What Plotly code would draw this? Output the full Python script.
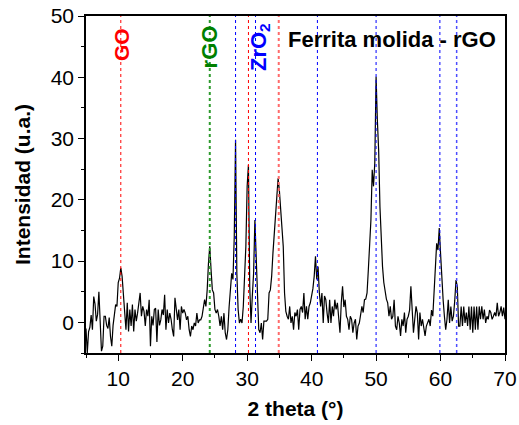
"""Difractograma XRD - Ferrita molida - rGO."""

import numpy as np
import plotly.graph_objects as go

# 2 theta grid (deg): 5.0 .. 70.0, step 0.2
two_theta_start = 5.0
two_theta_step = 0.2

# intensidad (u.a.), una fila por cada 2 grados
intensity = [
    -1.0, -5.0, -1.5, -0.8, 1.2, -1.2, 4.2, 3.0, 0.2, 1.3,
    5.0, -1.7, -4.7, -3.9, 1.0, 1.0, -0.5, -1.0, 0.8, -2.3,
    -3.9, -0.5, 1.5, 2.9, 2.6, 6.5, 7.2, 8.9, 7.5, 4.2,
    1.0, -1.2, 3.2, -1.5, 2.1, -0.6, 2.9, -1.5, 2.1, 0.2,
    1.5, 2.9, 4.8, 1.0, 2.6, 1.8, -0.6, 2.1, 1.0, 3.7,
    -3.9, 1.0, -0.5, 2.1, 2.3, -3.2, 2.1, -0.5, 0.4, 2.1,
    1.2, 4.5, -1.2, 2.1, -0.1, 1.5, 0.5, -1.2, -2.3, 4.0,
    1.5, 0.4, 2.1, -1.2, 2.6, 1.5, 2.1, 1.5, 0.4, 1.0,
    -1.2, -2.3, -0.6, -1.2, -0.1, -0.6, 1.5, -0.1, 0.4, 0.4,
    1.0, 2.6, 3.7, 2.6, 5.3, 9.7, 12.4, 8.6, 5.3, 4.8,
    2.1, 1.5, 2.1, 1.0, -0.6, 1.0, -1.2, 1.5, -1.7, -2.8,
    -1.2, 2.5, 5.3, 8.0, 7.0, 14.0, 29.8, 8.0, 2.1, -0.1,
    0.5, -0.1, 2.6, 8.6, 12.4, 22.2, 25.7, 5.9, -0.1, 4.3,
    8.0, 16.7, 10.2, 2.6, -1.2, -1.7, -0.1, -2.8, 0.2, 0.2,
    0.2, 0.5, 4.8, 5.3, 7.5, 11.3, 14.5, 17.0, 20.0, 23.5,
    21.5, 17.8, 14.0, 12.4, 4.8, 1.8, 1.0, 0.5, 2.6, -0.1,
    1.0, -1.2, 1.6, 1.0, 2.1, -1.2, 2.1, 2.6, 1.6, 4.8,
    0.5, 2.6, 0.5, 2.6, 3.2, 4.3, 5.5, 7.5, 10.8, 7.0,
    9.1, 4.8, 2.6, 4.8, -0.1, 4.3, 3.7, 1.5, -0.1, 3.7,
    -0.1, 2.6, 1.0, 3.7, 2.1, 3.2, 1.0, -1.7, 3.2, 5.9,
    2.5, 3.7, 1.0, 0.5, -1.2, 1.0, 0.5, -1.7, -0.1, 0.5,
    -2.8, -0.6, -0.1, 1.6, 2.6, 1.6, 3.7, 3.8, 4.8, 8.6,
    12.4, 16.7, 24.9, 22.2, 26.0, 40.1, 33.0, 28.0, 18.9, 12.4,
    9.1, 6.5, 4.8, 3.8, 3.2, 1.0, 2.6, 0.5, 1.0, 3.7,
    -0.6, -1.2, 1.0, -0.1, -2.2, 0.5, -0.6, 1.6, -1.7, 0.5,
    1.0, 2.0, 5.9, 1.6, -1.7, 0.5, 2.6, 1.5, -2.8, 1.6,
    -0.6, 0.5, -0.6, -2.2, -0.6, -0.1, 0.5, -0.6, 2.0, 1.0,
    5.0, 9.0, 12.9, 11.8, 15.4, 11.3, 6.9, 3.7, 1.0, -1.2,
    0.5, 3.7, -0.1, 2.6, 0.2, 1.0, 3.5, 6.9, 5.9, -0.6,
    -0.6, 2.6, -0.6, 2.6, -0.1, 1.6, -0.6, 2.6, -1.2, 2.6,
    -1.7, 2.6, -1.2, 2.6, -1.2, 2.6, 0.5, 2.6, 0.5, 2.1,
    -0.1, 1.0, 0.5, 2.0, 1.6, 0.5, 1.0, 1.6, 1.0, 3.2,
    1.0, 1.6, 2.6, 1.0, 2.4, 0.5,
]

two_theta = np.round(two_theta_start + two_theta_step * np.arange(len(intensity)), 2)

# lineas de referencia (posicion 2 theta, color)
ref_positions = [10.4, 24.2, 28.2, 30.2, 31.3, 34.9, 40.9, 50.0, 59.9, 62.5]
ref_colors = ["#ff0000", "#2e9a2e", "#0000ff", "#ff0000", "#0000ff",
              "#ff6a6a", "#0000ff", "#0000ff", "#0000ff", "#4d4dff"]
ref_widths = [1, 2, 1, 1, 1, 2, 1, 1, 1, 1.5]

# etiquetas de fases
phase_labels = ["GO", "rGO", "ZrO<sub>2</sub>"]
phase_x = [10.4, 24.2, 31.9]
phase_y = [45.4, 45.0, 45.0]
phase_colors = ["#ff0000", "#008000", "#0000ff"]
phase_sizes = [21, 22, 22]

sample_label = "Ferrita molida - rGO"

FONT = "Arial, Liberation Sans, sans-serif"

fig = go.Figure()

fig.add_trace(
    go.Scatter(
        x=two_theta,
        y=intensity,
        mode="lines",
        line=dict(color="black", width=1.2),
        showlegend=False,
    )
)

for pos, col, w in zip(ref_positions, ref_colors, ref_widths):
    fig.add_shape(
        type="line",
        xref="x",
        yref="paper",
        x0=pos,
        x1=pos,
        y0=0,
        y1=1,
        line=dict(color=col, width=w, dash="dot"),
    )

for txt, px, py, col, fs in zip(phase_labels, phase_x, phase_y, phase_colors, phase_sizes):
    fig.add_annotation(
        x=px,
        y=py,
        text=f"<b>{txt}</b>",
        textangle=-90,
        showarrow=False,
        xanchor="center",
        yanchor="middle",
        font=dict(family=FONT, size=fs, color=col),
    )

fig.add_annotation(
    x=36.1,
    y=46.1,
    text=f"<b>{sample_label}</b>",
    showarrow=False,
    xanchor="left",
    yanchor="middle",
    font=dict(family=FONT, size=22, color="black"),
)

axis_common = dict(
    automargin=False,
    showline=True,
    linecolor="black",
    linewidth=1.5,
    mirror=True,
    showgrid=False,
    zeroline=False,
    ticks="outside",
    tickcolor="black",
    ticklen=6,
    tickwidth=1.2,
    tickfont=dict(family=FONT, size=21, color="black"),
)

fig.update_xaxes(
    range=[5, 70],
    dtick=10,
    tick0=0,
    minor=dict(dtick=5, ticks="outside", ticklen=3, tickcolor="black", tickwidth=1.2),
    title=dict(text="<b>2 theta (°)</b>", font=dict(family=FONT, size=21, color="black"), standoff=12),
    **axis_common,
)
fig.update_yaxes(
    range=[-5, 50],
    dtick=10,
    tick0=0,
    minor=dict(dtick=5, ticks="outside", ticklen=3, tickcolor="black", tickwidth=1.2),
    title=dict(text="<b>Intensidad (u.a.)</b>", font=dict(family=FONT, size=21, color="black"), standoff=14),
    **axis_common,
)

fig.update_layout(
    width=519,
    height=425,
    margin=dict(l=86, r=14, t=16, b=72),
    paper_bgcolor="white",
    plot_bgcolor="white",
    showlegend=False,
)

fig.write_html(
    "out.html",
    config={"displayModeBar": False},
    post_script="document.body.style.margin='0';",
)
